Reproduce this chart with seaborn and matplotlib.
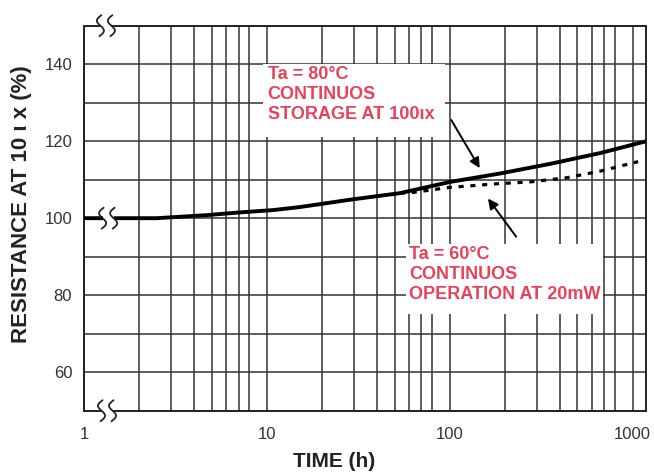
import numpy as np
import pandas as pd
import matplotlib
matplotlib.use("Agg")
import matplotlib.pyplot as plt
import seaborn as sns
from matplotlib.transforms import ScaledTranslation
from matplotlib.patches import Rectangle
from matplotlib.lines import Line2D
from matplotlib.ticker import FixedLocator, FuncFormatter, NullFormatter

# ---------------- data ----------------
time_storage = [1, 2.5, 4.7, 7.1, 10.8, 15.2, 28.5, 53.4, 100, 188, 353, 663, 1190]
res_storage = [100.0, 100.0, 100.8, 101.5, 102.1, 102.9, 104.8, 106.5, 109.4, 111.6, 114.1, 116.9, 120.0]

time_operation = [53.4, 61, 100, 188, 274, 436, 663, 1073]
res_operation = [106.5, 106.6, 108.0, 109.0, 109.4, 110.5, 112.2, 114.7]

x_ticks = [1, 10, 100, 1000]
y_ticks = [60, 80, 100, 120, 140]
y_grid = [50, 60, 70, 80, 90, 100, 110, 120, 130, 140, 150]

label_storage = "Ta = 80°C\nCONTINUOS\nSTORAGE AT 100ιx"
label_operation = "Ta = 60°C\nCONTINUOS\nOPERATION AT 20mW"

# ---------------- style ----------------
sns.set_style("white")
plt.rcParams["font.family"] = ["Liberation Sans", "DejaVu Sans"]

RED = "#E8415A"
GRID = "#333333"

fig = plt.figure(figsize=(6.54, 4.73), dpi=100)
ax = fig.add_axes([0.1284, 0.1317, 0.8594, 0.8140])
ax.set_xscale("log")

df_st = pd.DataFrame({"time": time_storage, "res": res_storage})
df_op = pd.DataFrame({"time": time_operation, "res": res_operation})

sns.lineplot(data=df_st, x="time", y="res", ax=ax, color="black", lw=2.8,
             estimator=None, sort=True, zorder=3)
sns.lineplot(data=df_op, x="time", y="res", ax=ax, color="black", lw=2.3,
             estimator=None, sort=True, zorder=3)
ax.lines[-1].set_dashes([1.6, 2.1])

ax.set_xlim(1, 1185)
ax.set_ylim(50, 150)

# ticks & grid (the printed chart shows 7 intermediate lines per decade)
ax.xaxis.set_major_locator(FixedLocator(x_ticks))
ax.xaxis.set_major_formatter(FuncFormatter(lambda v, p: f"{int(round(v))}"))
minors = [m * d for d in (1, 10, 100, 1000) for m in range(2, 9) if m * d < 1185]
ax.xaxis.set_minor_locator(FixedLocator(minors))
ax.xaxis.set_minor_formatter(NullFormatter())
ax.set_yticks(y_grid)
ax.set_yticklabels([str(v) if v in y_ticks else "" for v in y_grid])

ax.grid(True, which="both", axis="both", color=GRID, lw=1.1)
ax.set_axisbelow(True)
ax.tick_params(axis="both", which="both", length=0, labelsize=12, labelcolor="#333333")
ax.tick_params(axis="x", pad=12)
ax.tick_params(axis="y", pad=8.5)
for s in ax.spines.values():
    s.set_visible(True)
    s.set_color("#222222")
    s.set_linewidth(1.4)

ax.set_xlabel("")
ax.set_ylabel("")
ax.text(0.445, -0.131, "TIME (h)", transform=ax.transAxes, ha="center", va="center",
        fontsize=15, fontweight="bold", color="#222222")
ax.text(-0.112, 0.537, "RESISTANCE AT 10 ι x (%)", transform=ax.transAxes, ha="center",
        va="center", rotation=90, fontsize=16, fontweight="bold", color="#222222")

# annotation boxes
ax.add_patch(Rectangle((9.5, 121.0), 94 - 9.5, 140.0 - 121.0, fc="white", ec="none", zorder=1))
ax.add_patch(Rectangle((57.5, 75.0), 689 - 57.5, 93.2 - 75.0, fc="white", ec="none", zorder=1))

ax.text(10.1, 139.6, label_storage, ha="left", va="top", fontsize=13, fontweight="bold",
        color=RED, linespacing=1.25, zorder=4)
ax.text(60, 92.8, label_operation, ha="left", va="top", fontsize=13, fontweight="bold",
        color=RED, linespacing=1.25, zorder=4)

arrow = dict(arrowstyle="-|>", color="black", lw=1.4, mutation_scale=15, shrinkA=0, shrinkB=0)
ax.annotate("", xy=(146, 113.0), xytext=(102, 125.5), arrowprops=arrow, zorder=4)
ax.annotate("", xy=(162, 105.1), xytext=(231, 95.2), arrowprops=arrow, zorder=4)


# axis-break squiggles
def squiggle(x, y, trans):
    tr = fig.dpi_scale_trans + ScaledTranslation(x, y, trans)
    ax.add_artist(Rectangle((-0.055, -0.03), 0.11, 0.06, transform=tr, fc="white",
                            ec="none", zorder=5, clip_on=False))
    s = np.linspace(0, 1, 80)
    h, a = 0.21, 0.04
    for cx in (-0.055, 0.055):
        xs = cx - a * np.sin(2 * np.pi * s) + 0.02 * (0.5 - s)
        ys = h / 2 - h * s
        ax.add_artist(Line2D(xs, ys, transform=tr, color="#222222", lw=1.3,
                             zorder=6, clip_on=False))


squiggle(0.039, 1.0, ax.transAxes)
squiggle(0.043, 100, ax.get_yaxis_transform())
squiggle(0.041, 0.0, ax.transAxes)

fig.savefig("out.png", dpi=100)
